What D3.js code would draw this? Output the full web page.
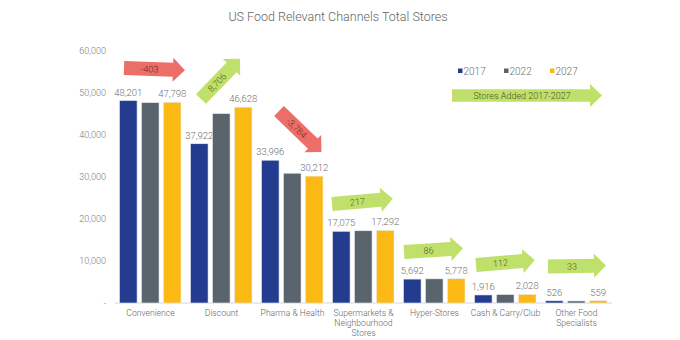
<!DOCTYPE html>
<html>
<head>
<meta charset="utf-8">
<script src="https://cdn.jsdelivr.net/npm/d3@7"></script>
<style>
  html, body { margin: 0; padding: 0; background: #fff; }
  text { font-family: Roboto, "Noto Sans", sans-serif; font-weight: 300; }
</style>
</head>
<body>
<svg id="chart" width="680" height="340"></svg>
<script>
const categories = [
  ["Convenience"],
  ["Discount"],
  ["Pharma & Health"],
  ["Supermarkets &", "Neighbourhood", "Stores"],
  ["Hyper-Stores"],
  ["Cash & Carry/Club"],
  ["Other Food", "Specialists"]
];
const seriesNames = ["2017", "2022", "2027"];
const values2017 = [48201, 37922, 33996, 17075, 5692, 1916, 526];
const values2022 = [47700, 45100, 30900, 17200, 5750, 2000, 490];
const values2027 = [47798, 46628, 30212, 17292, 5778, 2028, 559];
const yTicks = [0, 10000, 20000, 30000, 40000, 50000, 60000];
const legendArrowLabel = "Stores Added 2017-2027";
const title = "US Food Relevant Channels Total Stores";

const colors = { "2017": "#243c8f", "2022": "#59646d", "2027": "#fdb913" };
const green = "#c0e06c", red = "#ec6e68";

// arrow layout per category: tail x offset in band, tail y (px), angle (deg), length
const arrowLayout = [
  { dx: 9,  ty: 68,  ang: 2,    len: 61 },
  { dx: 15, ty: 99,  ang: -46,  len: 56 },
  { dx: 22, ty: 111, ang: 44,   len: 59 },
  { dx: 4,  ty: 204, ang: -5,   len: 61 },
  { dx: 5,  ty: 252, ang: -3.6, len: 59 },
  { dx: 6,  ty: 265, ang: -4.8, len: 59 },
  { dx: 7,  ty: 266.5, ang: -1, len: 58 }
];

const svg = d3.select("#chart");
const catKeys = categories.map(c => c.join(" "));

const x = d3.scaleBand().domain(catKeys).range([115, 612]);
const xi = d3.scaleBand().domain(seriesNames).range([4.5, 66]).paddingInner(0.2);
const y = d3.scaleLinear().domain([0, 60000]).range([303, 51]);

const valuesBySeries = { "2017": values2017, "2022": values2022, "2027": values2027 };
const fmtBase = d3.format(",");
const fmt = v => fmtBase(v).replace("\u2212", "-");

// title
svg.append("text").attr("x", 338).attr("y", 21).attr("text-anchor", "middle")
  .attr("font-size", 12.5).attr("fill", "#666").text(title);

// y axis labels
const yAxis = d3.axisLeft(y).tickValues(yTicks).tickSize(0).tickPadding(0)
  .tickFormat(d => d === 0 ? "-" : fmt(d));
const gy = svg.append("g").attr("transform", "translate(106,0)").call(yAxis);
gy.select(".domain").remove();
gy.selectAll("text").attr("font-size", 9).attr("fill", "#7a7a7a")
  .attr("font-family", "Roboto, 'Noto Sans', sans-serif").attr("font-weight", 300);

// baseline
svg.append("line").attr("x1", 115).attr("x2", 612).attr("y1", y(0)).attr("y2", y(0))
  .attr("stroke", "#d6d6d6").attr("stroke-width", 1);

// bars
catKeys.forEach((k, i) => {
  const g = svg.append("g").attr("transform", `translate(${x(k)},0)`);
  seriesNames.forEach(s => {
    const v = valuesBySeries[s][i];
    g.append("rect").attr("x", xi(s)).attr("width", xi.bandwidth())
      .attr("y", y(v)).attr("height", y(0) - y(v))
      .attr("fill", colors[s]).attr("stroke", "#e8ecf4").attr("stroke-width", 0.6);
    if (s !== "2022") {
      g.append("text").attr("x", xi(s) + xi.bandwidth() / 2).attr("y", y(v) - 5)
        .attr("text-anchor", "middle").attr("font-size", 9.5).attr("fill", "#6e6e6e")
        .text(fmt(v));
    }
  });
  const t = g.append("text").attr("text-anchor", "middle").attr("font-size", 8.6).attr("fill", "#666");
  categories[i].forEach((line, j) => {
    t.append("tspan").attr("x", x.bandwidth() / 2).attr("y", 316 + j * 10).text(line);
  });
});

// arrow path pointing right, tail at 0, tip at len
function arrowPath(len, bh, hh, hl) {
  const p = d3.path();
  p.moveTo(0, -bh); p.lineTo(len - hl, -bh); p.lineTo(len - hl, -hh);
  p.lineTo(len, 0); p.lineTo(len - hl, hh); p.lineTo(len - hl, bh);
  p.lineTo(0, bh); p.closePath();
  return p.toString();
}

// change arrows
catKeys.forEach((k, i) => {
  const delta = values2027[i] - values2017[i];
  const L = arrowLayout[i];
  const g = svg.append("g")
    .attr("transform", `translate(${x(k) + L.dx},${L.ty}) rotate(${L.ang})`);
  g.append("path").attr("d", arrowPath(L.len, 7, 12, 12))
    .attr("fill", delta < 0 ? red : green);
  g.append("text").attr("x", (L.len - 12) / 2 + 1).attr("y", 3.3)
    .attr("text-anchor", "middle").attr("font-size", 9).attr("font-weight", 400)
    .attr("fill", delta < 0 ? "#5a2d2a" : "#4c5520").text(fmt(delta));
});

// legend
const legend = svg.append("g");
const legX = [458, 504, 550];
seriesNames.forEach((s, i) => {
  legend.append("rect").attr("x", legX[i]).attr("y", 68.5).attr("width", 4.5).attr("height", 4.5)
    .attr("fill", colors[s]);
  legend.append("text").attr("x", legX[i] + 5.5).attr("y", 74.5).attr("font-size", 10)
    .attr("fill", "#6e6e6e").text(s);
});
const la = svg.append("g").attr("transform", "translate(452,95.5)");
la.append("path").attr("d", arrowPath(150, 6.3, 11.5, 12)).attr("fill", green);
la.append("text").attr("x", 70).attr("y", 3.2).attr("text-anchor", "middle")
  .attr("font-size", 9).attr("font-weight", 400)
  .attr("fill", "#4c5520").text(legendArrowLabel);
</script>
</body>
</html>
